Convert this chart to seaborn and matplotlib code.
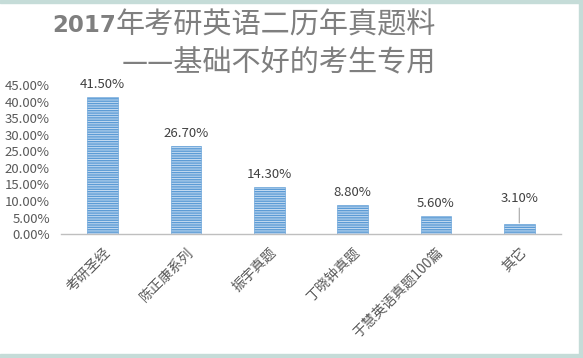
import matplotlib
matplotlib.use('Agg')
import matplotlib.pyplot as plt
import seaborn as sns
from matplotlib.patches import Rectangle
from matplotlib.ticker import PercentFormatter, FixedLocator

# Data
categories = ['考研圣经', '陈正康系列', '振宇真题', '丁晓钟真题', '于慧英语真题100篇', '其它']
shares = [41.5, 26.7, 14.3, 8.8, 5.6, 3.1]
value_labels = ['41.50%', '26.70%', '14.30%', '8.80%', '5.60%', '3.10%']
yticks = [0, 5, 10, 15, 20, 25, 30, 35, 40, 45]
title_year = '2017'
title_lines = ['年考研英语二历年真题料', '——基础不好的考生专用']

sns.set_style('white')
plt.rcParams['font.family'] = ['Noto Sans CJK SC', 'DejaVu Sans']
plt.rcParams['hatch.linewidth'] = 1.0

fig = plt.figure(figsize=(5.83, 3.58), dpi=100)
ax = fig.add_axes([0.1046, 0.346, 0.8576, 0.4166])

sns.barplot(x=categories, y=shares, color='#c6dcf2', width=0.37, ax=ax, saturation=1)
for p in ax.patches:
    p.set_hatch('-------')
    p.set_edgecolor('#5b9bd5')
    p.set_linewidth(0.4)

# Data labels
for i, (v, lab) in enumerate(zip(shares, value_labels)):
    if i == len(shares) - 1:
        ax.annotate(lab, xy=(i, v + 0.3), xytext=(0, 13), textcoords='offset points',
                    ha='center', va='bottom', fontsize=9.5, color='#404040',
                    arrowprops=dict(arrowstyle='-', color='#a6a6a6', lw=0.8, shrinkA=0, shrinkB=0))
    else:
        ax.annotate(lab, xy=(i, v), xytext=(0, 4), textcoords='offset points',
                    ha='center', va='bottom', fontsize=9.5, color='#404040')

ax.set_xlim(-0.5, 5.5)
ax.set_ylim(0, 45)
ax.set_yticks(yticks)
ax.yaxis.set_major_formatter(PercentFormatter(decimals=2))
ax.tick_params(axis='y', length=0, labelsize=9.5, labelcolor='#595959', pad=8)

ax.set_xticks(range(len(categories)))
ax.set_xticklabels(categories, rotation=45, ha='right', rotation_mode='anchor',
                   fontsize=10, color='#595959')
ax.tick_params(axis='x', which='major', length=0, pad=8)
ax.xaxis.set_minor_locator(FixedLocator([i - 0.5 for i in range(len(categories) + 1)]))
ax.tick_params(axis='x', which='minor', length=5, width=1, color='#bfbfbf', direction='out')

for s in ['top', 'right', 'left']:
    ax.spines[s].set_visible(False)
ax.spines['bottom'].set_color('#bfbfbf')
ax.spines['bottom'].set_linewidth(1)

# Title: bold year + regular CJK text
t1 = fig.text(436 / 583, 1 - 25 / 358, title_lines[0], ha='right', va='center',
              fontsize=21, color='#7f7f7f')
fig.text(436 / 583, 1 - 63 / 358, title_lines[1], ha='right', va='center',
         fontsize=21, color='#7f7f7f')
fig.canvas.draw()
bb = t1.get_window_extent()
fig.text(bb.x0 / fig.bbox.width, 1 - 26 / 358, title_year, ha='right', va='center',
         fontsize=16.5, fontweight='bold', color='#7f7f7f', family='DejaVu Sans')

# Frame strips
border = '#c5dcd8'
fig.patches.append(Rectangle((0, 1 - 3 / 358), 1, 3 / 358, transform=fig.transFigure, color=border))
fig.patches.append(Rectangle((1 - 4 / 583, 0), 4 / 583, 1, transform=fig.transFigure, color=border))
fig.patches.append(Rectangle((0, 0), 1, 4 / 358, transform=fig.transFigure, color=border))

fig.savefig('out.png', dpi=100)
